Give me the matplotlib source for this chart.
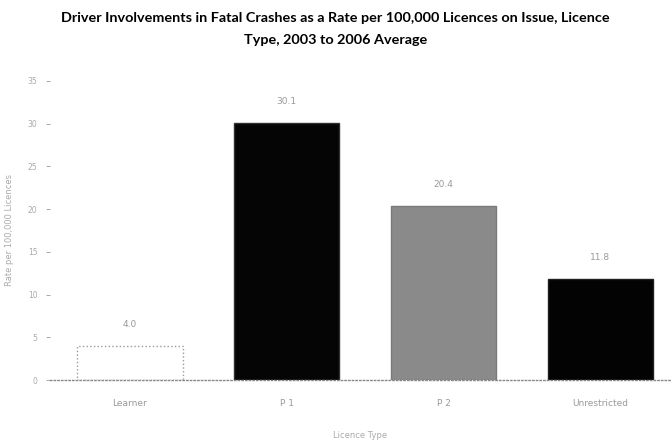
import matplotlib
matplotlib.use("Agg")
import matplotlib.pyplot as plt

categories = ["Learner", "P 1", "P 2", "Unrestricted"]
rates = [4.0, 30.1, 20.4, 11.8]
rate_labels = ["4.0", "30.1", "20.4", "11.8"]
yticks = [0, 5, 10, 15, 20, 25, 30, 35]

face_colors = ["white", "#050505", "#8a8a8a", "#030303"]
edge_colors = ["#9a9a9a", "#303030", "#7a7a7a", "#202020"]
edge_styles = [":", "-", "-", "-"]

fig = plt.figure(figsize=(6.71, 4.42), dpi=100)
ax = fig.add_axes([50 / 671, 1 - 380 / 442, 1 - 50 / 671, (380 - 81) / 442])

x = list(range(len(categories)))
bars = ax.bar(x, rates, width=0.67, color=face_colors, zorder=2)
for b, ec, ls in zip(bars, edge_colors, edge_styles):
    b.set_edgecolor(ec)
    b.set_linestyle(ls)
    b.set_linewidth(1.0)

for xi, v, lab in zip(x, rates, rate_labels):
    ax.text(xi, v + 2.0, lab, ha="center", va="bottom", fontsize=6.5,
            color="#999999", family="DejaVu Sans")

ax.set_xlim(-0.51, 3.45)
ax.set_ylim(0, 35)
ax.set_yticks(yticks)
ax.set_yticklabels([str(t) for t in yticks], fontsize=5.5, color="#aaaaaa")
ax.tick_params(axis="y", length=3, width=0.6, color="#999999", pad=6)
ax.set_xticks(x)
ax.set_xticklabels(categories, fontsize=6.5, color="#999999")
ax.tick_params(axis="x", length=0, pad=14)

for s in ["top", "right", "left"]:
    ax.spines[s].set_visible(False)
ax.spines["bottom"].set_linestyle(":")
ax.spines["bottom"].set_color("#888888")
ax.spines["bottom"].set_linewidth(1.0)

ax.set_ylabel("Rate per 100,000 Licences", fontsize=6, color="#aaaaaa", labelpad=10)
ax.set_xlabel("Licence Type", fontsize=6, color="#aaaaaa", labelpad=16)

fig.text(0.5, 1 - 18 / 442,
         "Driver Involvements in Fatal Crashes as a Rate per 100,000 Licences on Issue, Licence",
         ha="center", va="center", fontsize=10.4, fontweight="bold", family="Lato")
fig.text(0.5, 1 - 40 / 442, "Type, 2003 to 2006 Average",
         ha="center", va="center", fontsize=10.4, fontweight="bold", family="Lato")

fig.savefig("out.png", dpi=100, facecolor="white")
